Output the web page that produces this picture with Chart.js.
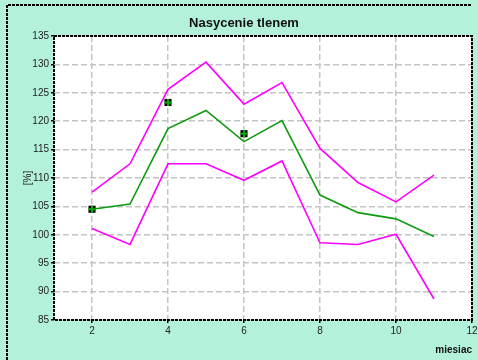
<!DOCTYPE html>
<html>
<head>
<meta charset="utf-8">
<script src="https://cdn.jsdelivr.net/npm/chart.js@4"></script>
<style>
  html, body { margin: 0; padding: 0; background: #b4f1db; overflow: hidden; }
  #wrap { width: 478px; height: 360px; position: relative; }
</style>
</head>
<body>
<div id="wrap"><canvas id="chart" width="478" height="360"></canvas></div>
<script>
const months = [2, 3, 4, 5, 6, 7, 8, 9, 10, 11];
const meanVals = [104.5, 105.4, 118.7, 121.9, 116.4, 120.1, 107.0, 103.9, 102.8, 99.7];
const upperVals = [107.5, 112.5, 125.6, 130.4, 123.0, 126.8, 115.2, 109.2, 105.8, 110.5];
const lowerVals = [101.1, 98.3, 112.5, 112.5, 109.6, 113.0, 98.6, 98.3, 100.1, 88.7];
const obsMonths = [2, 4, 6];
const obsVals = [104.5, 123.3, 117.8];
const xTicks = [2, 4, 6, 8, 10, 12];

const toPts = (xs, ys) => xs.map((x, i) => ({ x: x, y: ys[i] }));

// mint background, outer frame, white plot area, plot border and texts
const frame = {
  id: "frame",
  beforeDraw(chart) {
    const { ctx, chartArea } = chart;
    ctx.save();
    ctx.fillStyle = "#b4f1db";
    ctx.fillRect(0, 0, chart.width, chart.height);
    ctx.strokeStyle = "#000";
    ctx.lineWidth = 2;
    ctx.setLineDash([3, 1]);
    ctx.beginPath();
    ctx.moveTo(7, 360);
    ctx.lineTo(7, 5);
    ctx.lineTo(471, 5);
    ctx.stroke();
    ctx.setLineDash([]);
    ctx.fillStyle = "#fff";
    ctx.fillRect(chartArea.left, chartArea.top, chartArea.right - chartArea.left, chartArea.bottom - chartArea.top);
    ctx.restore();
  },
  afterDraw(chart) {
    const { ctx, chartArea } = chart;
    ctx.save();
    ctx.strokeStyle = "#000";
    ctx.lineWidth = 2;
    ctx.setLineDash([3, 1]);
    ctx.strokeRect(chartArea.left, chartArea.top, chartArea.right - chartArea.left, chartArea.bottom - chartArea.top);
    ctx.setLineDash([]);

    ctx.fillStyle = "#111";
    ctx.textAlign = "center";
    ctx.textBaseline = "alphabetic";
    ctx.font = "bold 13px 'Liberation Sans', Arial";
    ctx.fillText("Nasycenie tlenem", 244, 27);

    ctx.font = "bold 10px 'Liberation Sans', Arial";
    ctx.textAlign = "right";
    ctx.fillText("miesiac", 472, 353);

    ctx.translate(28, 178);
    ctx.rotate(-Math.PI / 2);
    ctx.textAlign = "center";
    ctx.textBaseline = "middle";
    ctx.font = "10px 'Liberation Sans', Arial";
    ctx.fillText("[%]", 0, 0);
    ctx.restore();
  },
};

new Chart(document.getElementById("chart"), {
  type: "line",
  data: {
    datasets: [
      {
        data: toPts(obsMonths, obsVals),
        showLine: false,
        pointStyle: "cross",
        pointRadius: 3.5,
        pointBorderColor: "#00b000",
        pointBorderWidth: 2,
      },
      {
        data: toPts(obsMonths, obsVals),
        showLine: false,
        pointStyle: "rect",
        pointRadius: 5,
        pointBackgroundColor: "#000",
        pointBorderColor: "#000",
        pointBorderWidth: 0,
      },
      {
        data: toPts(months, meanVals),
        borderColor: "#109a10",
        borderWidth: 1.6,
        pointRadius: 0,
        tension: 0,
      },
      {
        data: toPts(months, upperVals),
        borderColor: "#ff00ff",
        borderWidth: 1.6,
        pointRadius: 0,
        tension: 0,
      },
      {
        data: toPts(months, lowerVals),
        borderColor: "#ff00ff",
        borderWidth: 1.6,
        pointRadius: 0,
        tension: 0,
      },
    ],
  },
  options: {
    responsive: false,
    animation: false,
    layout: { padding: { top: 36, right: 4, left: 0, bottom: 0 } },
    plugins: {
      legend: { display: false },
      tooltip: { enabled: false },
    },
    scales: {
      x: {
        type: "linear",
        min: 1,
        max: 12,
        afterBuildTicks(axis) {
          axis.ticks = xTicks.map((v) => ({ value: v }));
        },
        afterFit(axis) {
          axis.height = 40;
          axis.paddingRight = 0;
        },
        grid: { color: "#c4c4c4", lineWidth: 1.5, tickColor: "#000", tickLength: 3 },
        border: { display: false, dash: [6, 3] },
        ticks: { color: "#222", font: { size: 10, family: "'Liberation Sans', Arial" }, padding: 2, maxRotation: 0 },
      },
      y: {
        min: 85,
        max: 135,
        afterFit(axis) {
          axis.width = 54;
        },
        grid: { color: "#c4c4c4", lineWidth: 1.5, tickColor: "#000", tickLength: 3 },
        border: { display: false, dash: [6, 3] },
        ticks: { stepSize: 5, color: "#222", font: { size: 10, family: "'Liberation Sans', Arial" }, padding: 2 },
      },
    },
  },
  plugins: [frame],
});
</script>
</body>
</html>
